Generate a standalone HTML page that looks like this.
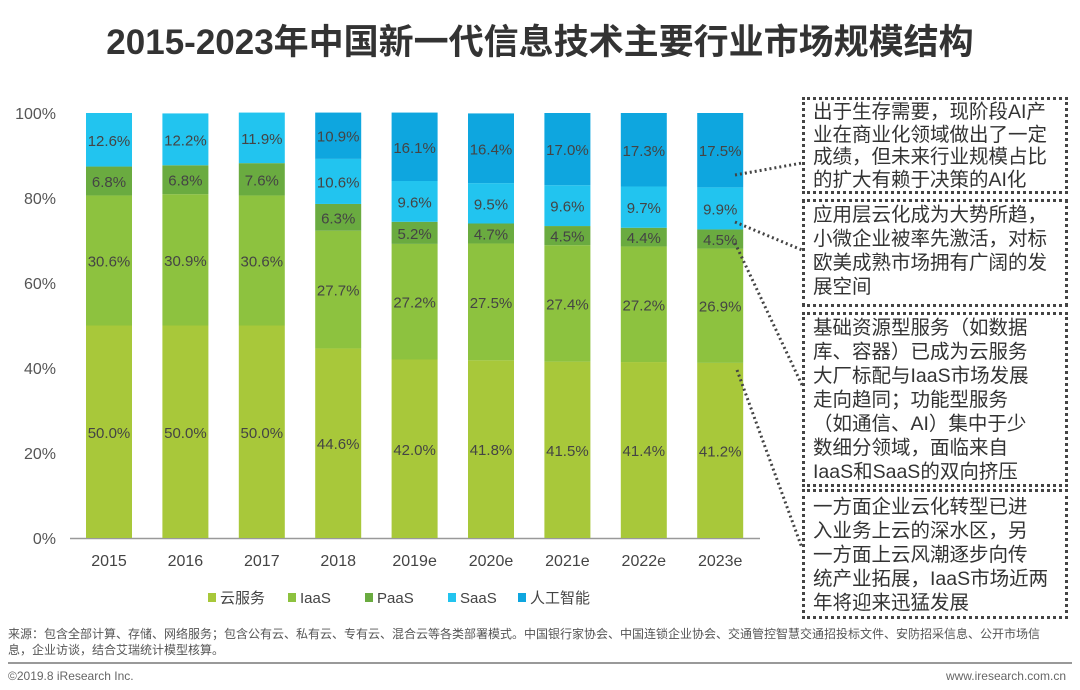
<!DOCTYPE html>
<html><head><meta charset="utf-8"><style>
body{margin:0;width:1080px;height:690px;background:#fff;font-family:"Liberation Sans","Noto Sans CJK SC",sans-serif;overflow:hidden;position:relative}
.box{position:absolute;left:802px;border:3px dotted #444;padding:1px 0 0 8px;font-size:19.5px;line-height:24px;color:#333;font-family:"Liberation Sans","Noto Sans CJK SC",sans-serif;white-space:nowrap;box-sizing:border-box;width:266px;overflow:hidden}
</style></head><body>
<div style="position:absolute;left:0;width:1080px;top:14px;text-align:center;font-size:35px;font-weight:bold;color:#333;font-family:'Liberation Sans','Noto Sans CJK SC',sans-serif">2015-2023年中国新一代信息技术主要行业市场规模结构</div>
<svg id="chart" width="1080" height="690" style="position:absolute;left:0;top:0"></svg>
<div class="box" style="top:97px;height:97px;line-height:22.5px">出于生存需要，现阶段AI产<br>业在商业化领域做出了一定<br>成绩，但未来行业规模占比<br>的扩大有赖于决策的AI化</div>
<div class="box" style="top:199px;height:108px">应用层云化成为大势所趋，<br>小微企业被率先激活，对标<br>欧美成熟市场拥有广阔的发<br>展空间</div>
<div class="box" style="top:312px;height:175px">基础资源型服务（如数据<br>库、容器）已成为云服务<br>大厂标配与IaaS市场发展<br>走向趋同；功能型服务<br>（如通信、AI）集中于少<br>数细分领域，面临来自<br>IaaS和SaaS的双向挤压</div>
<div class="box" style="top:489px;height:130px;padding-top:3px">一方面企业云化转型已进<br>入业务上云的深水区，另<br>一方面上云风潮逐步向传<br>统产业拓展，IaaS市场近两<br>年将迎来迅猛发展</div>
<div style="position:absolute;left:8px;top:626px;width:1035px;font-size:12px;line-height:16px;color:#555">来源：包含全部计算、存储、网络服务；包含公有云、私有云、专有云、混合云等各类部署模式。中国银行家协会、中国连锁企业协会、交通管控智慧交通招投标文件、安防招采信息、公开市场信息，企业访谈，结合艾瑞统计模型核算。</div>
<div style="position:absolute;left:8px;top:662px;width:1064px;height:2px;background:#999"></div>
<div style="position:absolute;left:8px;top:669px;font-size:12px;color:#666">©2019.8 iResearch Inc.</div>
<div style="position:absolute;right:14px;top:669px;font-size:12px;color:#666">www.iresearch.com.cn</div>
<script>
const categories=["2015","2016","2017","2018","2019e","2020e","2021e","2022e","2023e"];
const cloud=[50.0,50.0,50.0,44.6,42.0,41.8,41.5,41.4,41.2];
const iaas=[30.6,30.9,30.6,27.7,27.2,27.5,27.4,27.2,26.9];
const paas=[6.8,6.8,7.6,6.3,5.2,4.7,4.5,4.4,4.5];
const saas=[12.6,12.2,11.9,10.6,9.6,9.5,9.6,9.7,9.9];
const ai=[0,0,0,10.9,16.1,16.4,17.0,17.3,17.5];
const yTicks=[0,20,40,60,80,100];
const seriesNames=["云服务","IaaS","PaaS","SaaS","人工智能"];
const series=[cloud,iaas,paas,saas,ai];
const colors=["#a8c83a","#8dc23f","#6aab40","#22c4ef","#0ea6df"];
const svg=document.getElementById('chart');const NS="http://www.w3.org/2000/svg";
const y=v=>538-v*4.25;const x=i=>109+i*76.4;const bw=46;
function mk(t,a,p){const e=document.createElementNS(NS,t);for(const k in a)e.setAttribute(k,a[k]);(p||svg).appendChild(e);return e;}
yTicks.forEach(t=>{const e=mk('text',{x:56,y:y(t)+6,'text-anchor':'end','font-size':16,fill:'#555'});e.textContent=t+'%';

});
mk('line',{x1:70,x2:760,y1:538.5,y2:538.5,stroke:'#999','stroke-width':1.5});
categories.forEach((c,i)=>{let base=0;
series.forEach((s,k)=>{const v=s[i];if(!v)return;
const r=mk('rect',{x:x(i)-bw/2,y:y(base+v),width:bw,height:v*4.25,fill:colors[k]});


const t=mk('text',{x:x(i),y:y(base+v/2)+6,'text-anchor':'middle','font-size':15,fill:'#444'});t.textContent=v.toFixed(1)+'%';


base+=v;});
const l=mk('text',{x:x(i),y:566,'text-anchor':'middle','font-size':16,fill:'#444'});l.textContent=c;

});
const lx=[208,288,365,448,518];
seriesNames.forEach((n,k)=>{mk('rect',{x:lx[k],y:593,width:8,height:9,fill:colors[k]});
const t=mk('text',{x:lx[k]+12,y:603,'font-size':15,fill:'#444'});t.textContent=n;

});
[[735,175,802,163],[735,222,802,250],[735,243,802,385],[737,370,802,548]].forEach(p=>{
const l=mk('line',{x1:p[0],y1:p[1],x2:p[2],y2:p[3],stroke:'#444','stroke-width':3,'stroke-dasharray':'2 3'});

});
</script>
</body></html>
